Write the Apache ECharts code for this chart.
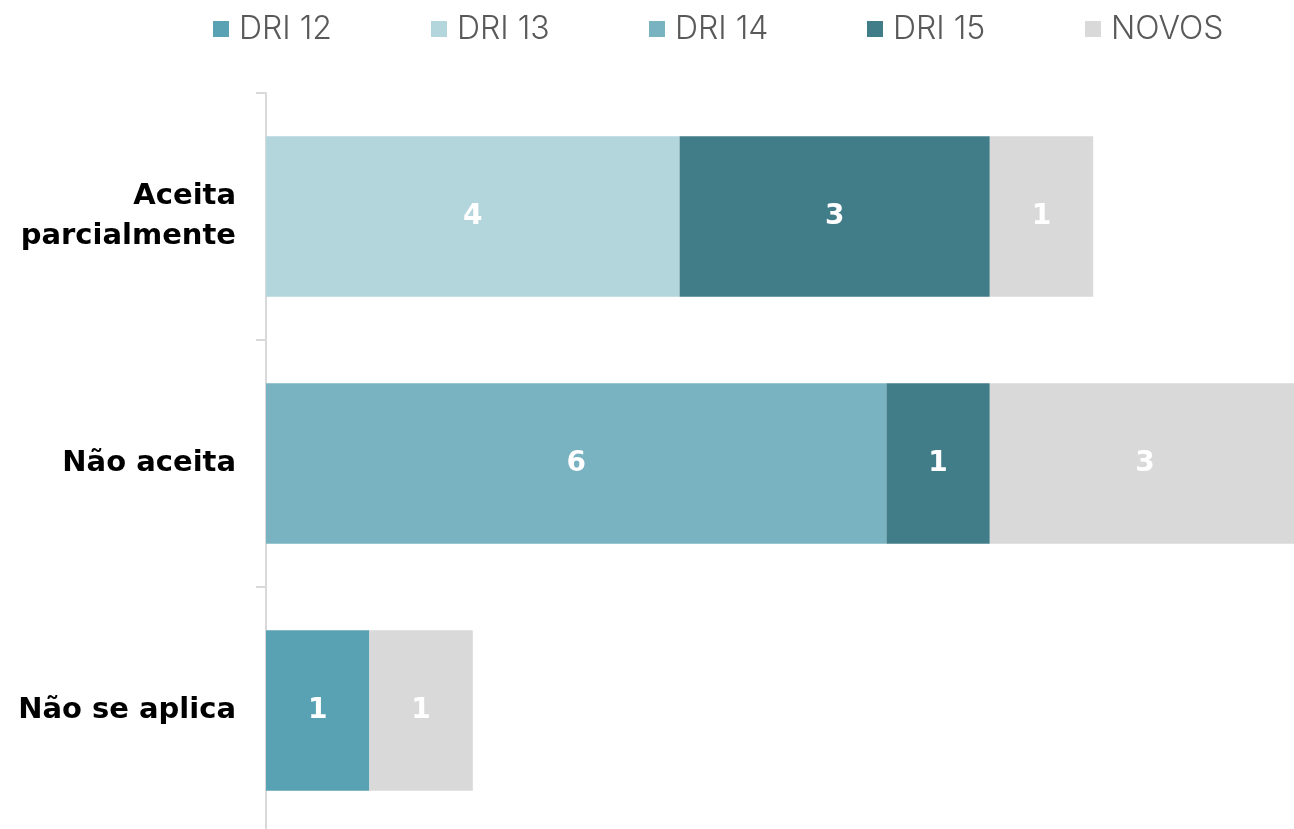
<!DOCTYPE html>
<html>
<head>
<meta charset="utf-8">
<title>Avaliação das recomendações</title>
<script src="https://cdn.jsdelivr.net/npm/echarts@6/dist/echarts.min.js"></script>
<style>
  html, body { margin: 0; padding: 0; background: #fff; }
  #chart { width: 1294px; height: 829px; }
</style>
</head>
<body>
<div id="chart"></div>
<script>
// categorias (de cima para baixo)
const categories = ['Aceita\nparcialmente', 'Não aceita', 'Não se aplica']

const seriesNames = ['DRI 12', 'DRI 13', 'DRI 14', 'DRI 15', 'NOVOS']
const dri12 = [0, 0, 1]
const dri13 = [4, 0, 0]
const dri14 = [0, 6, 0]
const dri15 = [3, 1, 0]
const novos = [1, 3, 1]

const colors = ['#58a2b3', '#b3d5dc', '#79b3c1', '#417d89', '#d9d9d9']
const values = [dri12, dri13, dri14, dri15, novos]

const chart = echarts.init(document.getElementById('chart'))

// uma legenda por série para manter o espaçamento fixo entre itens
const legends = seriesNames.map((name, i) => ({
  top: 8,
  left: 208 + i * 218,
  itemWidth: 16,
  itemHeight: 16,
  icon: 'rect',
  textStyle: {
    fontFamily: 'Inter',
    fontWeight: 300,
    fontSize: 32,
    color: '#595959',
    padding: [0, 0, 0, 5]
  },
  data: [name]
}))

const option = {
  animation: false,
  color: colors,
  legend: legends,
  grid: {
    left: 266,
    top: 93,
    width: 1034,
    height: 741,
    containLabel: false,
    outerBoundsMode: 'none'
  },
  xAxis: {
    type: 'value',
    min: 0,
    max: 10,
    show: false
  },
  yAxis: {
    type: 'category',
    inverse: true,
    data: categories,
    axisLine: { show: true, lineStyle: { color: '#d9d9d9', width: 2 } },
    axisTick: { show: true, length: 10, lineStyle: { color: '#d9d9d9', width: 2 } },
    axisLabel: {
      margin: 30,
      fontFamily: 'DejaVu Sans',
      fontWeight: 'bold',
      fontSize: 29,
      lineHeight: 40,
      color: '#000',
      align: 'right'
    }
  },
  series: seriesNames.map((name, i) => ({
    name: name,
    type: 'bar',
    stack: 'total',
    barCategoryGap: '35%',
    data: values[i].map(v => (v === 0 ? null : v)),
    itemStyle: { color: colors[i] },
    label: {
      show: true,
      position: 'inside',
      color: '#fff',
      fontFamily: 'DejaVu Sans',
      fontWeight: 'bold',
      fontSize: 28
    }
  }))
}

chart.setOption(option)
</script>
</body>
</html>
